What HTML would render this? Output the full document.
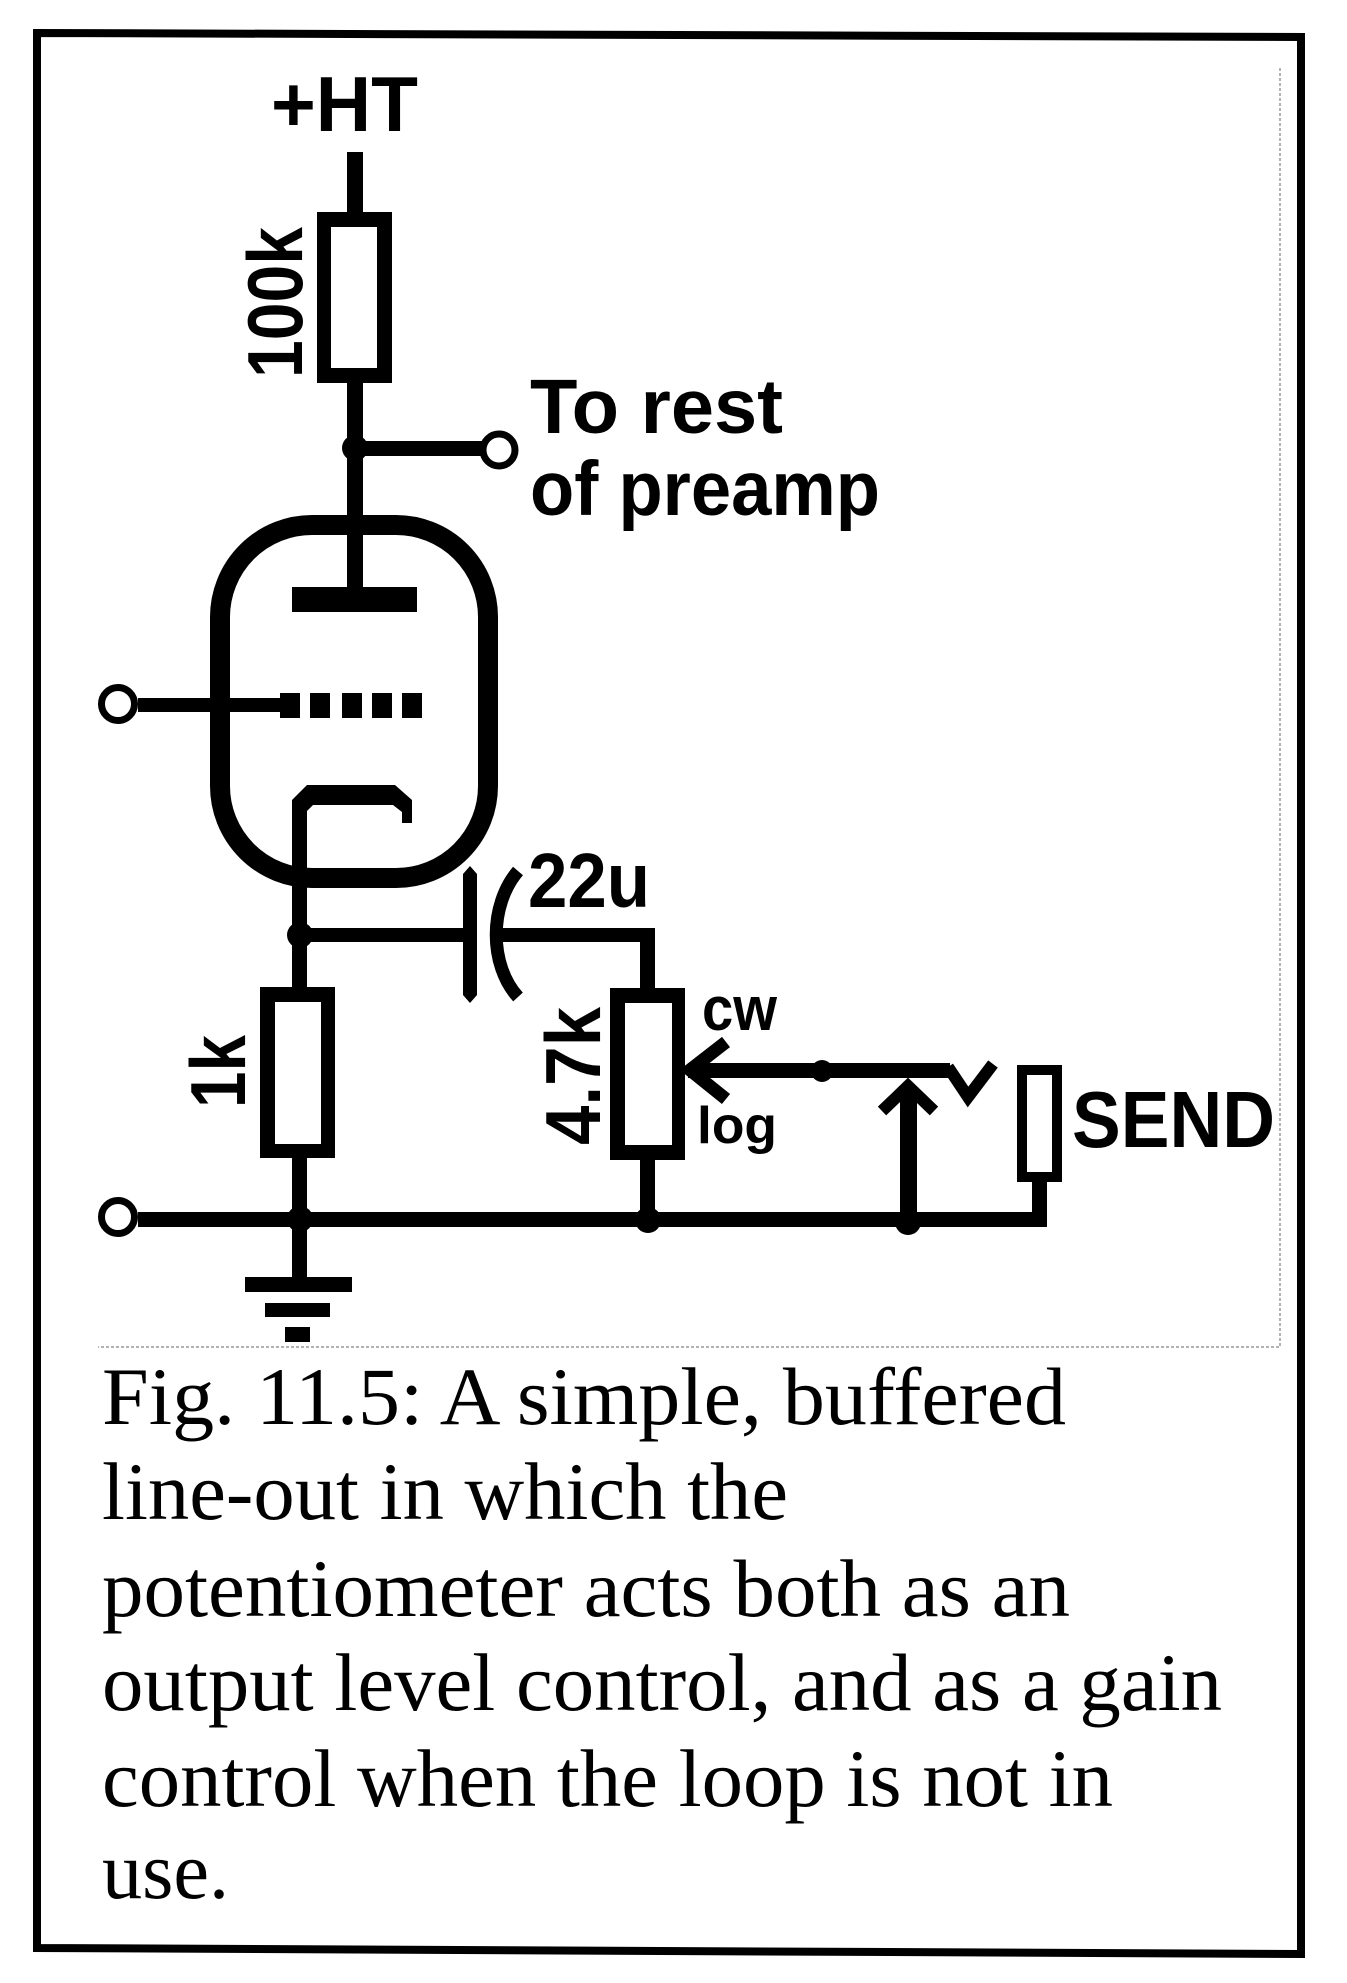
<!DOCTYPE html>
<html>
<head>
<meta charset="utf-8">
<style>
  html, body { margin: 0; padding: 0; background: #fff; }
  svg { display: block; }
  .lbl { font-family: "Liberation Sans", Arial, sans-serif; font-weight: bold; fill: #000; }
  .cap { font-family: "Liberation Serif", "Times New Roman", serif; fill: #000; font-size: 82px; }
</style>
</head>
<body>
<svg width="1347" height="1983" viewBox="0 0 1347 1983" xmlns="http://www.w3.org/2000/svg">
  <rect x="0" y="0" width="1347" height="1983" fill="#fff"/>

  <!-- outer border -->
  <path d="M37,33 L1301,37 L1301,1954 L37,1948 Z" fill="none" stroke="#000" stroke-width="8"/>
  <!-- inner dotted frame -->
  <path d="M1280,68 L1280,1347 L98,1347" fill="none" stroke="#999" stroke-width="1.5" stroke-dasharray="3 2"/>

  <!-- +HT -->
  <text class="lbl" x="271" y="131" font-size="78" textLength="147" lengthAdjust="spacingAndGlyphs">+HT</text>

  <!-- top wire -->
  <rect x="347" y="152" width="16" height="60" fill="#000"/>
  <!-- 100k resistor -->
  <rect x="317" y="212" width="75" height="171" fill="#000"/>
  <rect x="331" y="227" width="46" height="141" fill="#fff"/>
  <text class="lbl" transform="translate(302,378) rotate(-90)" font-size="78" textLength="151" lengthAdjust="spacingAndGlyphs">100k</text>

  <!-- anode wire -->
  <rect x="347" y="383" width="16" height="206" fill="#000"/>
  <!-- to rest of preamp -->
  <rect x="355" y="441" width="127" height="15" fill="#000"/>
  <circle cx="355" cy="448" r="13" fill="#000"/>
  <circle cx="499" cy="450" r="16" fill="#fff" stroke="#000" stroke-width="7"/>
  <text class="lbl" x="530" y="433" font-size="77" textLength="253" lengthAdjust="spacingAndGlyphs">To rest</text>
  <text class="lbl" x="530" y="515" font-size="77" textLength="350" lengthAdjust="spacingAndGlyphs">of preamp</text>

  <!-- tube envelope -->
  <rect x="220" y="525" width="268" height="353" rx="92" ry="92" fill="none" stroke="#000" stroke-width="20"/>
  <!-- anode plate -->
  <rect x="292" y="587" width="125" height="25" fill="#000"/>

  <!-- grid -->
  <rect x="138" y="698" width="142" height="14" fill="#000"/>
  <rect x="280" y="693" width="20" height="25" fill="#000"/>
  <rect x="310" y="693" width="20" height="25" fill="#000"/>
  <rect x="342" y="693" width="20" height="25" fill="#000"/>
  <rect x="372" y="693" width="20" height="25" fill="#000"/>
  <rect x="402" y="693" width="20" height="25" fill="#000"/>
  <circle cx="118" cy="704" r="16.5" fill="#fff" stroke="#000" stroke-width="7"/>

  <!-- cathode -->
  <polygon points="292,990 292,800 307,785 395,785 412,800 412,823 402,823 402,812 393,805 313,805 307,811 307,990" fill="#000"/>

  <!-- cathode junction & cap -->
  <rect x="300" y="928" width="163" height="14" fill="#000"/>
  <circle cx="300" cy="935" r="13" fill="#000"/>
  <rect x="463" y="874" width="14" height="121" fill="#000"/>
  <polygon points="463,874 470,866 477,874" fill="#000"/>
  <polygon points="463,995 470,1003 477,995" fill="#000"/>
  <path d="M518,871 C489,905 489,965 518,997" fill="none" stroke="#000" stroke-width="13"/>
  <rect x="497" y="928" width="158" height="14" fill="#000"/>
  <rect x="640" y="928" width="15" height="62" fill="#000"/>
  <text class="lbl" x="528" y="907" font-size="77" textLength="122" lengthAdjust="spacingAndGlyphs">22u</text>

  <!-- 1k resistor -->
  <rect x="260" y="987" width="75" height="171" fill="#000"/>
  <rect x="275" y="1002" width="46" height="142" fill="#fff"/>
  <text class="lbl" transform="translate(245,1108) rotate(-90)" font-size="78" textLength="73" lengthAdjust="spacingAndGlyphs">1k</text>
  <rect x="292" y="1158" width="15" height="121" fill="#000"/>

  <!-- pot 4.7k -->
  <rect x="610" y="988" width="75" height="172" fill="#000"/>
  <rect x="625" y="1003" width="47" height="142" fill="#fff"/>
  <text class="lbl" transform="translate(600,1145) rotate(-90)" font-size="78" textLength="138" lengthAdjust="spacingAndGlyphs">4.7k</text>
  <rect x="640" y="1160" width="15" height="60" fill="#000"/>
  <text class="lbl" x="702" y="1030" font-size="62" textLength="75" lengthAdjust="spacingAndGlyphs">cw</text>
  <text class="lbl" x="697" y="1143" font-size="52" textLength="80" lengthAdjust="spacingAndGlyphs">log</text>

  <!-- wiper -->
  <polyline points="726,1042 690,1070 726,1099" fill="none" stroke="#000" stroke-width="13" stroke-linejoin="miter"/>
  <rect x="688" y="1063" width="262" height="15" fill="#000"/>
  <circle cx="822" cy="1071" r="11" fill="#000"/>
  <polyline points="948,1067 968,1097 993,1064" fill="none" stroke="#000" stroke-width="12"/>

  <!-- up arrow -->
  <rect x="900" y="1090" width="17" height="132" fill="#000"/>
  <polyline points="882,1111 908,1086 934,1111" fill="none" stroke="#000" stroke-width="12"/>

  <!-- SEND jack -->
  <rect x="1017" y="1065" width="45" height="117" fill="#000"/>
  <rect x="1027" y="1075" width="25" height="97" fill="#fff"/>
  <rect x="1032" y="1180" width="15" height="47" fill="#000"/>
  <text class="lbl" x="1072" y="1147" font-size="80" textLength="203" lengthAdjust="spacingAndGlyphs">SEND</text>

  <!-- bottom rail -->
  <rect x="138" y="1212" width="909" height="15" fill="#000"/>
  <circle cx="118" cy="1217" r="16.5" fill="#fff" stroke="#000" stroke-width="7"/>
  <circle cx="300" cy="1219" r="13" fill="#000"/>
  <circle cx="648" cy="1220" r="13" fill="#000"/>
  <circle cx="908" cy="1222" r="13" fill="#000"/>

  <!-- ground -->
  <rect x="245" y="1277" width="107" height="15" fill="#000"/>
  <rect x="265" y="1303" width="65" height="14" fill="#000"/>
  <rect x="285" y="1327" width="25" height="15" fill="#000"/>

  <!-- caption -->
  <text class="cap" x="102" y="1424" textLength="964" lengthAdjust="spacingAndGlyphs">Fig. 11.5: A simple, buffered</text>
  <text class="cap" x="102" y="1519" textLength="686" lengthAdjust="spacingAndGlyphs">line-out in which the</text>
  <text class="cap" x="102" y="1616" textLength="968" lengthAdjust="spacingAndGlyphs">potentiometer acts both as an</text>
  <text class="cap" x="102" y="1710" textLength="1120" lengthAdjust="spacingAndGlyphs">output level control, and as a gain</text>
  <text class="cap" x="102" y="1806" textLength="1011" lengthAdjust="spacingAndGlyphs">control when the loop is not in</text>
  <text class="cap" x="102" y="1898" textLength="127" lengthAdjust="spacingAndGlyphs">use.</text>
</svg>
</body>
</html>
